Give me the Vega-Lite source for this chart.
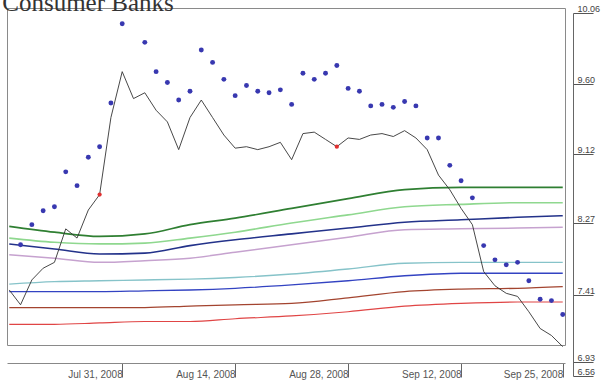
{
  "$schema": "https://vega.github.io/schema/vega-lite/v6.json",
  "width": 558,
  "height": 337,
  "autosize": {"type": "none"},
  "padding": {"left": 7, "top": 8, "right": 43, "bottom": 41},
  "background": "white",
  "config": {"view": {"stroke": "#8a8a8a", "strokeWidth": 1}, "axis": {"grid": false}},
  "datasets": {
    "price": [
      {"date": "2008-07-17", "value": 7.47}, {"date": "2008-07-18", "value": 7.34}, {"date": "2008-07-21", "value": 7.59}, {"date": "2008-07-22", "value": 7.73}, {"date": "2008-07-23", "value": 7.80},
      {"date": "2008-07-24", "value": 8.20}, {"date": "2008-07-25", "value": 8.09}, {"date": "2008-07-28", "value": 8.43}, {"date": "2008-07-29", "value": 8.62}, {"date": "2008-07-30", "value": 9.37},
      {"date": "2008-07-31", "value": 9.68}, {"date": "2008-08-01", "value": 9.50}, {"date": "2008-08-04", "value": 9.54}, {"date": "2008-08-05", "value": 9.42}, {"date": "2008-08-06", "value": 9.34},
      {"date": "2008-08-07", "value": 9.15}, {"date": "2008-08-08", "value": 9.37}, {"date": "2008-08-11", "value": 9.49}, {"date": "2008-08-12", "value": 9.37}, {"date": "2008-08-13", "value": 9.25},
      {"date": "2008-08-14", "value": 9.16}, {"date": "2008-08-15", "value": 9.17}, {"date": "2008-08-18", "value": 9.15}, {"date": "2008-08-19", "value": 9.17}, {"date": "2008-08-20", "value": 9.20},
      {"date": "2008-08-21", "value": 9.05}, {"date": "2008-08-22", "value": 9.26}, {"date": "2008-08-25", "value": 9.27}, {"date": "2008-08-26", "value": 9.22}, {"date": "2008-08-27", "value": 9.17},
      {"date": "2008-08-28", "value": 9.23}, {"date": "2008-08-29", "value": 9.22}, {"date": "2008-09-02", "value": 9.25}, {"date": "2008-09-03", "value": 9.26}, {"date": "2008-09-04", "value": 9.24},
      {"date": "2008-09-05", "value": 9.28}, {"date": "2008-09-08", "value": 9.23}, {"date": "2008-09-09", "value": 9.15}, {"date": "2008-09-10", "value": 8.86}, {"date": "2008-09-11", "value": 8.68},
      {"date": "2008-09-12", "value": 8.45}, {"date": "2008-09-15", "value": 8.25}, {"date": "2008-09-16", "value": 7.69}, {"date": "2008-09-17", "value": 7.52}, {"date": "2008-09-18", "value": 7.43},
      {"date": "2008-09-19", "value": 7.40}, {"date": "2008-09-22", "value": 7.29}, {"date": "2008-09-23", "value": 7.17}, {"date": "2008-09-24", "value": 7.12}, {"date": "2008-09-25", "value": 7.04}
    ],
    "dots": [
      {"date": "2008-07-18", "value": 8.01}, {"date": "2008-07-21", "value": 8.25}, {"date": "2008-07-22", "value": 8.42}, {"date": "2008-07-23", "value": 8.47}, {"date": "2008-07-24", "value": 8.90},
      {"date": "2008-07-25", "value": 8.73}, {"date": "2008-07-28", "value": 9.08}, {"date": "2008-07-29", "value": 9.17}, {"date": "2008-07-30", "value": 9.47}, {"date": "2008-07-31", "value": 9.99},
      {"date": "2008-08-04", "value": 9.87}, {"date": "2008-08-05", "value": 9.68}, {"date": "2008-08-06", "value": 9.61}, {"date": "2008-08-07", "value": 9.49}, {"date": "2008-08-08", "value": 9.55},
      {"date": "2008-08-11", "value": 9.82}, {"date": "2008-08-12", "value": 9.74}, {"date": "2008-08-13", "value": 9.63}, {"date": "2008-08-14", "value": 9.52}, {"date": "2008-08-15", "value": 9.59},
      {"date": "2008-08-18", "value": 9.55}, {"date": "2008-08-19", "value": 9.54}, {"date": "2008-08-20", "value": 9.56}, {"date": "2008-08-21", "value": 9.46}, {"date": "2008-08-22", "value": 9.67},
      {"date": "2008-08-25", "value": 9.63}, {"date": "2008-08-26", "value": 9.67}, {"date": "2008-08-27", "value": 9.72}, {"date": "2008-08-28", "value": 9.57}, {"date": "2008-08-29", "value": 9.55},
      {"date": "2008-09-02", "value": 9.45}, {"date": "2008-09-03", "value": 9.46}, {"date": "2008-09-04", "value": 9.44}, {"date": "2008-09-05", "value": 9.48}, {"date": "2008-09-08", "value": 9.45},
      {"date": "2008-09-09", "value": 9.23}, {"date": "2008-09-10", "value": 9.23}, {"date": "2008-09-11", "value": 8.98}, {"date": "2008-09-12", "value": 8.79}, {"date": "2008-09-15", "value": 8.58},
      {"date": "2008-09-16", "value": 8.00}, {"date": "2008-09-17", "value": 7.83}, {"date": "2008-09-18", "value": 7.77}, {"date": "2008-09-19", "value": 7.80}, {"date": "2008-09-22", "value": 7.58},
      {"date": "2008-09-23", "value": 7.38}, {"date": "2008-09-24", "value": 7.37}, {"date": "2008-09-25", "value": 7.27}
    ],
    "signals": [
      {"date": "2008-07-29", "value": 8.62}, {"date": "2008-08-27", "value": 9.17}
    ],
    "bands": [
      {"date": "2008-07-17", "s1": 8.23, "s2": 8.09, "s3": 8.02, "s4": 7.89, "s5": 7.54, "s6": 7.45, "s7": 7.32, "s8": 7.20},
      {"date": "2008-07-23", "s1": 8.16, "s2": 8.04, "s3": 7.96, "s4": 7.85, "s5": 7.57, "s6": 7.45, "s7": 7.32, "s8": 7.20},
      {"date": "2008-07-29", "s1": 8.11, "s2": 8.02, "s3": 7.90, "s4": 7.80, "s5": 7.58, "s6": 7.45, "s7": 7.32, "s8": 7.21},
      {"date": "2008-08-04", "s1": 8.14, "s2": 8.03, "s3": 7.91, "s4": 7.82, "s5": 7.59, "s6": 7.46, "s7": 7.32, "s8": 7.22},
      {"date": "2008-08-08", "s1": 8.25, "s2": 8.09, "s3": 8.00, "s4": 7.85, "s5": 7.60, "s6": 7.47, "s7": 7.33, "s8": 7.22},
      {"date": "2008-08-14", "s1": 8.33, "s2": 8.16, "s3": 8.07, "s4": 7.92, "s5": 7.62, "s6": 7.49, "s7": 7.34, "s8": 7.24},
      {"date": "2008-08-21", "s1": 8.45, "s2": 8.27, "s3": 8.14, "s4": 8.01, "s5": 7.66, "s6": 7.53, "s7": 7.35, "s8": 7.26},
      {"date": "2008-08-28", "s1": 8.57, "s2": 8.37, "s3": 8.21, "s4": 8.10, "s5": 7.72, "s6": 7.58, "s7": 7.39, "s8": 7.29},
      {"date": "2008-09-05", "s1": 8.68, "s2": 8.47, "s3": 8.28, "s4": 8.19, "s5": 7.79, "s6": 7.64, "s7": 7.45, "s8": 7.33},
      {"date": "2008-09-12", "s1": 8.71, "s2": 8.50, "s3": 8.31, "s4": 8.20, "s5": 7.80, "s6": 7.67, "s7": 7.48, "s8": 7.35},
      {"date": "2008-09-19", "s1": 8.71, "s2": 8.52, "s3": 8.34, "s4": 8.21, "s5": 7.80, "s6": 7.67, "s7": 7.49, "s8": 7.36},
      {"date": "2008-09-25", "s1": 8.71, "s2": 8.52, "s3": 8.36, "s4": 8.22, "s5": 7.80, "s6": 7.67, "s7": 7.51, "s8": 7.36}
    ],
    "heading": [
      {"date": "2008-07-17", "value": 10.075, "label": "Consumer Banks"}
    ]
  },
  "encoding": {
    "x": {
      "field": "date", "type": "ordinal",
      "scale": {"type": "point", "padding": 0.2, "domain": [
        "2008-07-17","2008-07-18","2008-07-21","2008-07-22","2008-07-23","2008-07-24","2008-07-25","2008-07-28","2008-07-29","2008-07-30","2008-07-31",
        "2008-08-01","2008-08-04","2008-08-05","2008-08-06","2008-08-07","2008-08-08","2008-08-11","2008-08-12","2008-08-13","2008-08-14",
        "2008-08-15","2008-08-18","2008-08-19","2008-08-20","2008-08-21","2008-08-22","2008-08-25","2008-08-26","2008-08-27","2008-08-28",
        "2008-08-29","2008-09-02","2008-09-03","2008-09-04","2008-09-05","2008-09-08","2008-09-09","2008-09-10","2008-09-11","2008-09-12",
        "2008-09-15","2008-09-16","2008-09-17","2008-09-18","2008-09-19","2008-09-22","2008-09-23","2008-09-24","2008-09-25"]},
      "axis": {
        "orient": "bottom", "offset": 18, "title": null,
        "values": ["2008-07-31","2008-08-14","2008-08-28","2008-09-12","2008-09-25"],
        "labelExpr": "timeFormat(timeParse(datum.value,'%Y-%m-%d'),'%b %d, %Y')",
        "tickSize": 14, "tickColor": "#666666", "domainColor": "#888888",
        "labelAlign": "right", "labelBaseline": "middle", "labelPadding": -3, "labelDx": -15, "labelAngle": 0,
        "labelFont": "Liberation Sans", "labelFontSize": 10, "labelColor": "#555555", "labelOverlap": false, "labelBound": false
      }
    },
    "y": {
      "field": "value", "type": "quantitative",
      "scale": {"domain": [6.56, 6.93, 7.41, 8.27, 9.12, 9.60, 10.06], "range": [368, 354, 287, 215, 146, 76, 5], "zero": false, "nice": false},
      "axis": {
        "orient": "right", "offset": 8, "title": null,
        "values": [10.06, 9.60, 9.12, 8.27, 7.41, 6.93, 6.56], "format": ".2f",
        "tickSize": 20, "tickColor": "#555555", "domainColor": "#666666",
        "labelAlign": "left", "labelBaseline": "bottom", "labelPadding": -16, "labelDy": -1,
        "labelFont": "Liberation Sans", "labelFontSize": 9, "labelColor": "#444444", "labelOverlap": false, "labelBound": false
      }
    }
  },
  "layer": [
    {
      "data": {"name": "bands"},
      "transform": [{"fold": ["s1","s2","s3","s4","s5","s6","s7","s8"], "as": ["series", "value"]}],
      "mark": {"type": "line", "interpolate": "monotone"},
      "encoding": {
        "color": {"field": "series", "type": "nominal", "legend": null,
          "scale": {"domain": ["s1","s2","s3","s4","s5","s6","s7","s8"], "range": ["#2f7f32", "#8fd88f", "#23328a", "#c6a2cf", "#86c3c9", "#3343c2", "#a3442f", "#e04545"]}},
        "strokeWidth": {"field": "series", "type": "ordinal", "legend": null,
          "scale": {"domain": ["s1","s2","s3","s4","s5","s6","s7","s8"], "range": [1.7, 1.2, 2, 1.3, 1.2, 2, 1.6, 1.6]}}
      }
    },
    {
      "data": {"name": "price"},
      "mark": {"type": "line", "color": "#333333", "strokeWidth": 0.9}
    },
    {
      "data": {"name": "dots"},
      "mark": {"type": "point", "filled": true, "shape": "circle", "size": 24, "color": "#3838b0", "opacity": 1}
    },
    {
      "data": {"name": "signals"},
      "mark": {"type": "point", "filled": true, "shape": "circle", "size": 18, "color": "#e03030", "opacity": 1}
    },
    {
      "data": {"name": "heading"},
      "mark": {"type": "text", "font": "Liberation Serif, DejaVu Serif, serif", "fontSize": 25, "fill": "#333333", "align": "left", "baseline": "alphabetic", "dx": -7, "clip": false},
      "encoding": {
        "text": {"field": "label", "type": "nominal"}
      }
    }
  ]
}
